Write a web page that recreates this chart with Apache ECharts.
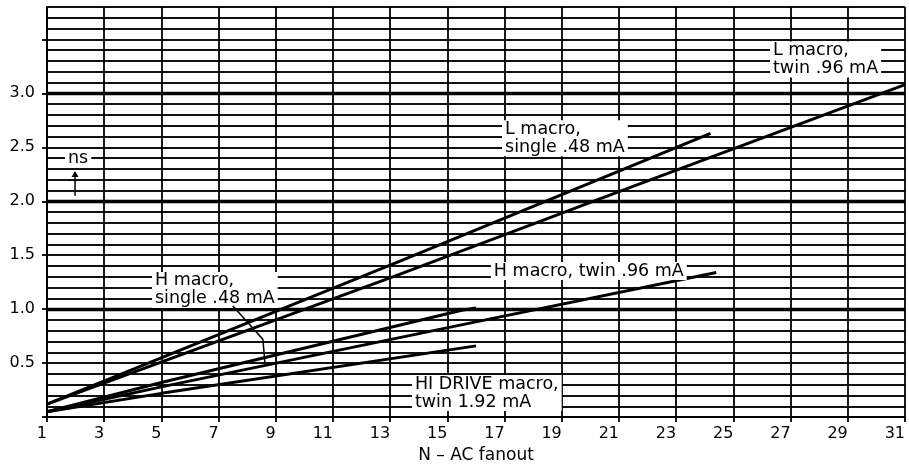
<!DOCTYPE html>
<html>
<head>
<meta charset="utf-8">
<script src="https://cdn.jsdelivr.net/npm/echarts@6/dist/echarts.min.js"></script>
<style>
  html, body { margin: 0; padding: 0; background: #fff; }
  #chart { width: 909px; height: 469px; }
</style>
</head>
<body>
<div id="chart"></div>
<script>
// Delay (ns) versus AC fanout, one [fanout, delay] list per macro type
const lMacroTwin   = [[1, 0.12], [13.3, 1.32], [21, 2.09], [31, 3.08]];
const lMacroSingle = [[1, 0.12], [13.3, 1.44], [21, 2.28], [24.2, 2.63]];
const hMacroTwin   = [[1, 0.05], [5, 0.28], [15.4, 0.85], [24.4, 1.34]];
const hMacroSingle = [[1, 0.05], [5, 0.32], [15.5, 0.99], [16, 1.01]];
const hiDriveTwin  = [[1, 0.05], [5, 0.22], [16, 0.66]];

const seriesNames = [
  'L macro, twin .96 mA',
  'L macro, single .48 mA',
  'H macro, twin .96 mA',
  'H macro, single .48 mA',
  'HI DRIVE macro, twin 1.92 mA'
];

// Axis ticks
const yLabelValues = [0.5, 1.0, 1.5, 2.0, 2.5, 3.0];
const yTickValues  = [0, 0.5, 1.0, 1.5, 2.0, 2.5, 3.0, 3.5];
const heavyRules   = [1, 2, 3];

const FONT = 'DejaVu Sans';
const INK = '#000';

const chart = echarts.init(document.getElementById('chart'), null, { renderer: 'canvas' });

const curves = [lMacroTwin, lMacroSingle, hMacroTwin, hMacroSingle, hiDriveTwin];

const series = curves.map((d, i) => {
  const s = {
    name: seriesNames[i],
    type: 'line',
    data: d,
    yAxisIndex: 0,
    symbol: 'none',
    showSymbol: false,
    silent: true,
    z: 3,
    lineStyle: { color: INK, width: 3 }
  };
  if (i === 0) {
    s.markLine = {
      silent: true,
      symbol: 'none',
      label: { show: false },
      z: 2,
      lineStyle: { color: INK, width: 3.4, type: 'solid' },
      data: heavyRules.map(v => ({ yAxis: v }))
    };
  }
  return s;
});

chart.setOption({
  animation: false,
  backgroundColor: '#fff',
  grid: { left: 47, right: 4, top: 7, bottom: 48, containLabel: false },
  xAxis: {
    type: 'value',
    min: 1, max: 31, interval: 2,
    name: 'N \u2013 AC fanout',
    nameLocation: 'middle',
    nameGap: 26,
    nameTextStyle: { fontFamily: FONT, fontSize: 17, color: INK },
    axisLine: { show: true, lineStyle: { color: INK, width: 1.8 } },
    axisTick: { show: true, inside: false, length: 5, lineStyle: { color: INK, width: 1.8 } },
    axisLabel: { fontFamily: FONT, fontSize: 16, color: INK, margin: 9, align: 'right' },
    splitLine: { show: true, lineStyle: { color: INK, width: 1.8 } }
  },
  yAxis: [
    {
      // fine ruling every 0.1 ns
      type: 'value',
      position: 'left',
      min: 0, max: 3.8, interval: 0.1,
      axisLine: { show: true, lineStyle: { color: INK, width: 1.8 } },
      axisTick: { show: false },
      axisLabel: { show: false },
      splitLine: { show: true, lineStyle: { color: '#111', width: 1.8 } }
    },
    {
      // labelled scale
      type: 'value',
      position: 'left',
      min: 0, max: 3.8, interval: 0.5,
      axisLine: { show: false },
      axisTick: { show: true, customValues: yTickValues, length: 5, lineStyle: { color: INK, width: 1.8 } },
      axisLabel: {
        customValues: yLabelValues,
        formatter: v => Number(v).toFixed(1),
        fontFamily: FONT, fontSize: 16, color: INK, margin: 12
      },
      splitLine: { show: false }
    }
  ],
  series: series
});

// Annotations, anchored in data units (text block top-left corner)
const notes = [
  { text: 'L macro,\ntwin .96 mA',          at: [26.28, 3.48] },
  { text: 'L macro,\nsingle .48 mA',        at: [16.91, 2.75] },
  { text: 'H macro, twin .96 mA',           at: [16.52, 1.437] },
  { text: 'H macro,\nsingle .48 mA',        at: [4.67, 1.345] },
  { text: 'HI DRIVE macro,\ntwin 1.92 mA',  at: [13.76, 0.39] },
  { text: 'ns',                             at: [1.63, 2.48] }
];
const leader = [[7.5, 1.03], [8.55, 0.72], [8.62, 0.50]];
const unitArrow = { from: [1.98, 2.05], to: [1.98, 2.28] };

const px = p => chart.convertToPixel({ gridIndex: 0 }, p);

const graphics = notes.map(n => {
  const p = px(n.at);
  return {
    type: 'text',
    x: p[0], y: p[1],
    z: 100,
    silent: true,
    style: {
      text: n.text,
      fill: INK,
      fontFamily: FONT,
      fontSize: 17.5,
      lineHeight: 18,
      align: 'left',
      verticalAlign: 'top',
      backgroundColor: '#fff',
      padding: [0, 3, 0, 3]
    }
  };
});

graphics.push({
  type: 'polyline',
  z: 101,
  silent: true,
  shape: { points: leader.map(px) },
  style: { stroke: INK, lineWidth: 1.5, fill: null }
});

const a0 = px(unitArrow.from), a1 = px(unitArrow.to);
graphics.push({
  type: 'line',
  z: 101,
  silent: true,
  shape: { x1: a0[0], y1: a0[1], x2: a1[0], y2: a1[1] + 4 },
  style: { stroke: INK, lineWidth: 1.5 }
});
graphics.push({
  type: 'polygon',
  z: 101,
  silent: true,
  shape: { points: [[a1[0], a1[1]], [a1[0] - 3.5, a1[1] + 6], [a1[0] + 3.5, a1[1] + 6]] },
  style: { fill: INK, stroke: null }
});

chart.setOption({ graphic: graphics });
</script>
</body>
</html>
